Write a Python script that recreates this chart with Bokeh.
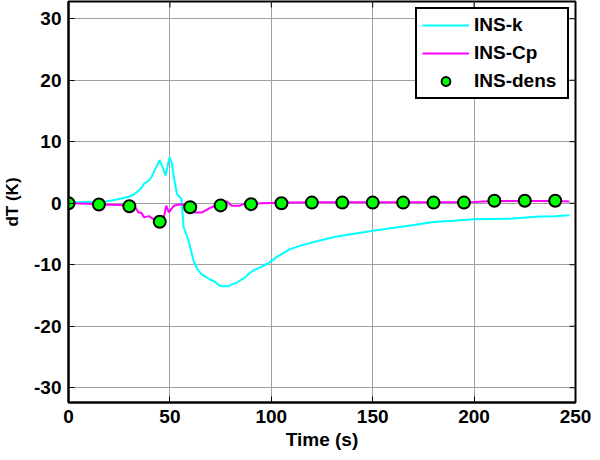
import math
from bokeh.plotting import figure
from bokeh.models import Range1d, FixedTicker, Legend, LegendItem
from bokeh.embed import file_html
from bokeh.resources import INLINE

# ---- data ----
t_k = [0, 5, 10, 15, 18.5, 22, 26.7, 29, 31.6, 33, 34.8, 36, 37.3, 39.7, 41, 42.1,
       43.5, 44.9, 46.5, 47.9, 49.8, 51, 51.9, 53.5, 55.7, 56.8, 59.2, 61.7, 63.5,
       65.8, 69.8, 72.3, 74, 75.5, 78.8, 80.5, 82.8, 85.4, 87, 89.5, 91.8, 93.5,
       98.4, 103.3, 109, 114.8, 122.9, 131.1, 139.3, 149.4, 160.5, 170.3, 180,
       190, 199.6, 210, 219.2, 232.3, 240, 247]
dT_k = [0.1, 0.15, 0.2, 0.25, 0.3, 0.5, 0.8, 1.0, 1.3, 1.6, 2.1, 2.5, 3.2, 3.7, 4.3, 5.1,
        6.0, 7.0, 5.8, 4.5, 7.5, 6.5, 4.3, 1.5, 0.7, -3.9, -6.1, -9.4, -10.7,
        -11.6, -12.4, -12.8, -13.3, -13.5, -13.5, -13.2, -12.95, -12.4, -12.1, -11.3, -10.8, -10.6,
        -9.8, -8.6, -7.5, -6.85, -6.15, -5.5, -5.06, -4.5, -3.97, -3.55, -3.05,
        -2.85, -2.6, -2.55, -2.5, -2.17, -2.1, -1.96]

t_cp = [0, 5, 10, 15, 20, 25, 28, 30, 32, 33, 34.5, 36, 37.3, 39.7, 42, 44.6, 46, 47,
        48.2, 49.5, 52, 54.4, 57.6, 60, 62.5, 65.8, 69, 72.3, 75.5, 78, 80.5, 84.5,
        87.8, 90, 95, 100, 110, 120, 140, 160, 180, 200, 210, 220, 230, 240, 247]
dT_cp = [0.0, -0.05, -0.1, -0.2, -0.25, -0.3, -0.35, -0.5, -0.6, -0.7, -1.5, -1.6, -2.3, -2.1,
         -2.6, -3.1, -2.9, -2.3, -0.4, -1.5, -0.4, -0.2, -0.2, -0.55, -1.5, -1.5, -0.9, -0.4,
         -0.3, 0.3, -0.4, -0.4, 0.1, -0.1, 0.0, 0.05, 0.1, 0.15, 0.15, 0.15, 0.15, 0.2,
         0.35, 0.35, 0.35, 0.35, 0.3]

t_dens = [0, 15, 30, 45, 60, 75, 90, 105, 120, 135, 150, 165, 180, 195, 210, 225, 240]
dT_dens = [0.0, -0.2, -0.5, -3.0, -0.65, -0.35, -0.15, 0.0, 0.1, 0.1, 0.1, 0.1, 0.1, 0.1,
           0.4, 0.4, 0.4]

x_ticks = [0, 50, 100, 150, 200, 250]
y_ticks = [-30, -20, -10, 0, 10, 20, 30]
x_lim = [0, 250]
y_lim = [-32.4, 32.8]

FONT = "Liberation Sans"

p = figure(width=591, height=452, output_backend="svg", toolbar_location=None,
           x_range=Range1d(*x_lim), y_range=Range1d(*y_lim),
           min_border_left=64, min_border_right=16, min_border_top=1, min_border_bottom=40,
           x_axis_label="Time (s)", y_axis_label="dT (K)")

p.outline_line_color = "black"
p.outline_line_width = 2
p.outline_line_alpha = 1.0
p.background_fill_color = "white"
p.border_fill_color = "white"

for ax in (p.xaxis[0], p.yaxis[0]):
    ax.major_tick_in = 6
    ax.major_tick_out = 0
    ax.minor_tick_in = 0
    ax.minor_tick_out = 0
    ax.axis_line_width = 2
    ax.axis_line_color = "black"
    ax.major_tick_line_color = "black"
    ax.major_label_text_font = FONT
    ax.major_label_text_font_style = "bold"
    ax.major_label_text_font_size = "19px"
    ax.major_label_text_color = "black"
    ax.axis_label_text_font = FONT
    ax.axis_label_text_font_style = "bold"
    ax.axis_label_text_color = "black"

p.xaxis[0].ticker = FixedTicker(ticks=x_ticks)
p.yaxis[0].ticker = FixedTicker(ticks=y_ticks)
p.yaxis[0].major_label_overrides = {v: str(v) for v in y_ticks}
p.xaxis[0].axis_label_text_font_size = "19px"
p.yaxis[0].axis_label_text_font_size = "17px"
p.xaxis[0].major_label_standoff = 7
p.xaxis[0].axis_label_standoff = 3
p.yaxis[0].major_label_standoff = 7
p.yaxis[0].axis_label_standoff = 9

p.grid.grid_line_color = "#a0a0a0"
p.grid.grid_line_width = 1
p.grid.grid_line_alpha = 1.0
p.xgrid.ticker = FixedTicker(ticks=x_ticks)
p.ygrid.ticker = FixedTicker(ticks=y_ticks)

# box-style inward ticks on the right and top edges
p.ray(x=[x_lim[1]] * len(y_ticks), y=y_ticks, length=6, length_units="screen",
      angle=math.pi, line_color="black", line_width=1)
p.ray(x=x_ticks, y=[y_lim[1]] * len(x_ticks), length=6, length_units="screen",
      angle=-math.pi / 2, line_color="black", line_width=1)

r_k = p.line(t_k, dT_k, line_color="#00ffff", line_width=2)
r_cp = p.line(t_cp, dT_cp, line_color="#ff00ff", line_width=2)
r_d = p.scatter(t_dens, dT_dens, size=12, marker="circle", fill_color="#00ff00",
                line_color="black", line_width=2)

legend = Legend(items=[LegendItem(label="INS-k", renderers=[r_k]),
                       LegendItem(label="INS-Cp", renderers=[r_cp]),
                       LegendItem(label="INS-dens", renderers=[r_d])],
                location="top_right", margin=6, padding=5, spacing=6,
                label_height=22, glyph_height=22, glyph_width=47, label_standoff=5,
                label_width=88,
                label_text_font=FONT, label_text_font_style="bold",
                label_text_font_size="19px", label_text_color="black",
                border_line_color="black", border_line_width=2, border_line_alpha=1.0,
                background_fill_color="white", background_fill_alpha=1.0)
p.add_layout(legend, "center")

open("out.html", "w").write(file_html(p, INLINE))
